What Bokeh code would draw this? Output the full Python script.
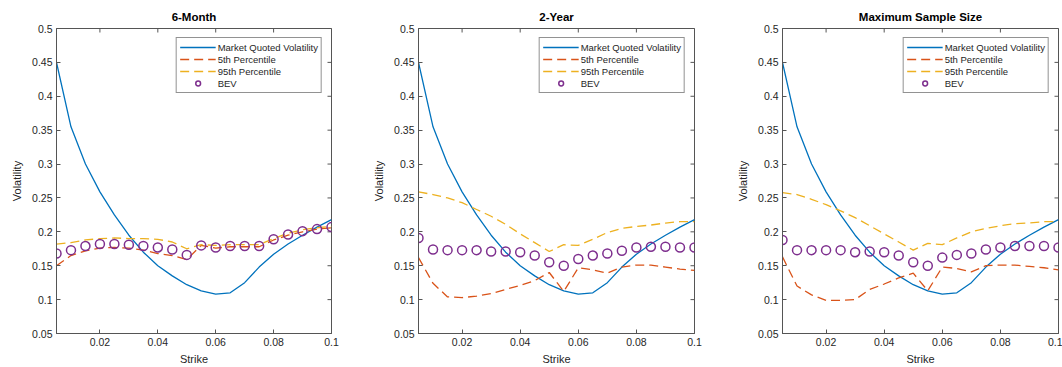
import math
from bokeh.plotting import figure
from bokeh.models import Range1d, FixedTicker, Legend, LegendItem
from bokeh.layouts import row
from bokeh.embed import file_html
from bokeh.resources import INLINE

strike = [0.005, 0.01, 0.015, 0.02, 0.025, 0.03, 0.035, 0.04, 0.045, 0.05,
          0.055, 0.06, 0.065, 0.07, 0.075, 0.08, 0.085, 0.09, 0.095, 0.1]
market = [0.450, 0.355, 0.300, 0.259, 0.225, 0.195, 0.170, 0.150, 0.135, 0.122,
          0.113, 0.108, 0.110, 0.125, 0.148, 0.167, 0.182, 0.195, 0.207, 0.218]

titles = ["6-Month", "2-Year", "Maximum Sample Size"]

p5_6m = [0.150, 0.165, 0.172, 0.176, 0.177, 0.176, 0.173, 0.168, 0.165, 0.159,
         0.180, 0.176, 0.178, 0.178, 0.178, 0.188, 0.195, 0.200, 0.204, 0.206]
p95_6m = [0.182, 0.184, 0.188, 0.190, 0.191, 0.190, 0.190, 0.189, 0.185, 0.175,
          0.181, 0.180, 0.181, 0.181, 0.181, 0.190, 0.198, 0.203, 0.206, 0.208]
bev_6m = [0.168, 0.173, 0.179, 0.182, 0.182, 0.181, 0.179, 0.177, 0.174, 0.166,
          0.180, 0.177, 0.179, 0.179, 0.179, 0.189, 0.196, 0.201, 0.204, 0.207]

p5_2y = [0.162, 0.124, 0.104, 0.103, 0.105, 0.109, 0.115, 0.121, 0.128, 0.140,
         0.112, 0.147, 0.144, 0.139, 0.148, 0.151, 0.151, 0.148, 0.145, 0.143]
p95_2y = [0.259, 0.255, 0.250, 0.243, 0.233, 0.223, 0.211, 0.197, 0.184, 0.171,
          0.181, 0.180, 0.189, 0.199, 0.205, 0.208, 0.210, 0.213, 0.215, 0.215]
bev_2y = [0.191, 0.174, 0.173, 0.173, 0.173, 0.171, 0.171, 0.170, 0.165, 0.155,
          0.150, 0.160, 0.165, 0.168, 0.172, 0.177, 0.178, 0.178, 0.177, 0.177]

p5_max = [0.163, 0.120, 0.107, 0.099, 0.099, 0.100, 0.115, 0.123, 0.132, 0.139,
          0.113, 0.148, 0.146, 0.141, 0.150, 0.151, 0.151, 0.149, 0.147, 0.144]
p95_max = [0.258, 0.255, 0.248, 0.240, 0.231, 0.221, 0.209, 0.197, 0.185, 0.173,
           0.183, 0.181, 0.191, 0.200, 0.205, 0.209, 0.212, 0.213, 0.215, 0.215]
bev_max = [0.188, 0.173, 0.173, 0.173, 0.173, 0.170, 0.171, 0.170, 0.165, 0.155,
           0.150, 0.162, 0.166, 0.168, 0.174, 0.177, 0.179, 0.179, 0.179, 0.177]

series = [(p5_6m, p95_6m, bev_6m), (p5_2y, p95_2y, bev_2y), (p5_max, p95_max, bev_max)]

x_ticks = [0.02, 0.04, 0.06, 0.08, 0.1]
y_ticks = [0.05, 0.1, 0.15, 0.2, 0.25, 0.3, 0.35, 0.4, 0.45, 0.5]

BLUE, ORANGE, YELLOW, PURPLE = "#0072BD", "#D95319", "#EDB120", "#7E2F8E"
AX = "#555555"
TXT = "#262626"
FONT = "Liberation Sans"

# (figure width, left border, right border)
geom = [(354, 56, 23), (354, 64, 14), (354, 74, 4)]


def style_axis(ax):
    ax.axis_line_color = AX
    ax.major_tick_line_color = AX
    ax.major_tick_in = 4
    ax.major_tick_out = 0
    ax.minor_tick_line_color = None
    ax.major_label_text_font = FONT
    ax.major_label_text_color = TXT
    ax.major_label_text_font_size = "10.5px"
    ax.major_label_standoff = 4
    ax.axis_label_text_font = FONT
    ax.axis_label_text_font_style = "normal"
    ax.axis_label_text_color = TXT
    ax.axis_label_text_font_size = "11px"


figs = []
for i, (title, (p5, p95, bev)) in enumerate(zip(titles, series)):
    w, bl, br = geom[i]
    p = figure(width=w, height=367, output_backend="svg", toolbar_location=None,
               x_range=Range1d(0.005, 0.1), y_range=Range1d(0.05, 0.5),
               min_border_left=bl, min_border_right=br, min_border_top=28,
               min_border_bottom=33, title=title)
    p.title.align = "center"
    p.title.vertical_align = "middle"
    p.title.text_font = FONT
    p.title.text_font_size = "11.5px"
    p.title.text_font_style = "bold"
    p.title.text_color = "black"
    p.title.standoff = 10
    p.grid.visible = False
    p.outline_line_color = AX
    p.background_fill_color = "white"
    p.border_fill_color = "white"

    p.xaxis.ticker = FixedTicker(ticks=x_ticks)
    p.yaxis.ticker = FixedTicker(ticks=y_ticks)
    p.xaxis.major_label_overrides = {v: f"{v:g}" for v in x_ticks}
    p.yaxis.major_label_overrides = {v: f"{v:g}" for v in y_ticks}
    p.xaxis.axis_label = "Strike"
    p.yaxis.axis_label = "Volatility"
    p.xaxis.axis_label_standoff = 4
    p.yaxis.axis_label_standoff = 6
    style_axis(p.xaxis[0])
    style_axis(p.yaxis[0])

    # inward ticks on the top and right edges of the box (clipped to the frame)
    p.scatter(x_ticks, [y_ticks[-1]] * len(x_ticks), marker="dash", size=8,
              angle=math.pi / 2, line_color=AX, line_width=1)
    p.scatter([x_ticks[-1]] * len(y_ticks), y_ticks, marker="dash", size=8,
              line_color=AX, line_width=1)

    r1 = p.line(strike, market, line_color=BLUE, line_width=1.3)
    r2 = p.line(strike, p5, line_color=ORANGE, line_width=1.3, line_dash="9 5")
    r3 = p.line(strike, p95, line_color=YELLOW, line_width=1.3, line_dash="9 5")
    r4 = p.scatter(strike, bev, size=9, marker="circle", fill_color=None,
                   line_color=PURPLE, line_width=1.5)

    legend = Legend(items=[
        LegendItem(label="Market Quoted Volatility", renderers=[r1]),
        LegendItem(label="5th Percentile", renderers=[r2]),
        LegendItem(label="95th Percentile", renderers=[r3]),
        LegendItem(label="BEV", renderers=[r4]),
    ], location="top_right")
    legend.margin = 9
    legend.padding = 3
    legend.spacing = 0
    legend.glyph_width = 36
    legend.glyph_height = 12
    legend.label_height = 12
    legend.label_standoff = 2
    legend.label_text_font = FONT
    legend.label_text_font_size = "9.5px"
    legend.label_text_color = TXT
    legend.border_line_color = TXT
    legend.border_line_width = 1
    legend.background_fill_color = "white"
    legend.background_fill_alpha = 1.0
    p.add_layout(legend, "center")
    figs.append(p)

layout = row(*figs)
open("out.html", "w").write(file_html(layout, INLINE))
